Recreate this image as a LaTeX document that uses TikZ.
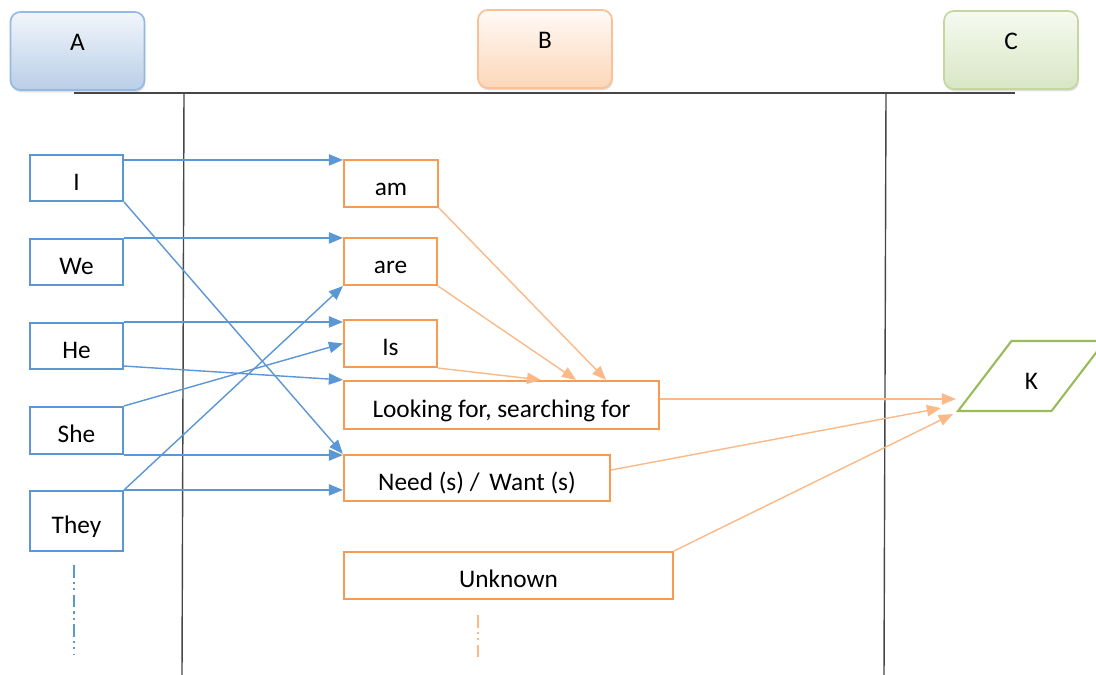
\documentclass[tikz,border=0pt]{standalone}
\usepackage{fontspec}
\setmainfont{Carlito}
\usetikzlibrary{calc,arrows.meta,shapes.geometric,shadows}

\definecolor{laneblue}{RGB}{91,150,213}
\definecolor{laneorange}{RGB}{248,155,80}
\definecolor{linkorange}{RGB}{250,185,135}
\definecolor{lanegreen}{RGB}{155,187,89}
\definecolor{laneline}{RGB}{70,70,70}

\tikzset{
	lanehead/.style={rounded corners=7pt, line width=1.2pt, minimum width=3.35cm,
		minimum height=1.95cm, inner sep=0pt, text height=5pt, text depth=5pt,
		drop shadow={shadow xshift=0.6pt, shadow yshift=-1.6pt, opacity=0.25}},
	wordbox/.style={line width=1.5pt, inner sep=0pt, text height=21pt, text depth=3.5pt},
	blueword/.style={wordbox, draw=laneblue, minimum width=2.325cm},
	orangeword/.style={wordbox, draw=laneorange, minimum height=1.175cm},
	bluelink/.style={draw=laneblue, line width=1pt, -{Triangle[length=10pt,width=8pt]}},
	orangelink/.style={draw=linkorange, line width=1pt, -{Triangle[length=10pt,width=8pt]}},
	lanesep/.style={draw=laneline, line width=1pt},
}

\begin{document}
\begin{tikzpicture}[x=0.025cm, y=-0.025cm, font=\fontsize{18}{22}\selectfont]

	\useasboundingbox (0,0) rectangle (1096,675);

% lane heads %{{{2

	\node[lanehead, draw={rgb,255:red,150;green,185;blue,225},
		top color={rgb,255:red,242;green,246;blue,251},
		bottom color={rgb,255:red,185;green,206;blue,232}] (A) at (77.5,51) {A};
	\node[lanehead, draw={rgb,255:red,250;green,192;blue,150},
		top color={rgb,255:red,255;green,250;blue,246},
		bottom color={rgb,255:red,252;green,214;blue,184}] (B) at (545,49) {B};
	\node[lanehead, draw={rgb,255:red,196;green,215;blue,160},
		top color={rgb,255:red,246;green,250;blue,241},
		bottom color={rgb,255:red,216;green,230;blue,196}] (C) at (1011,50) {C};

% lane lines %{{{2

	\draw[lanesep] (74,93) -- (1015,93);
	\draw[lanesep] (184,93) -- (182,675);
	\draw[lanesep] (886,93) -- (884,675);

% subjects %{{{2

	\foreach \name/\y/\h in {I/178/1.15, We/262/1.15, He/346/1.15, She/430.5/1.175, They/521/1.5}
	{ \node[blueword, minimum height=\h cm] (\name) at (76.5,\y) {\name}; }

	\draw[laneblue, line width=1pt, dash pattern=on 9pt off 3pt on 1.5pt off 3pt on 1.5pt off 3pt]
		(74,565) -- (74,655);

% verbs %{{{2

	\node[orangeword, minimum width=2.35cm] (am) at (391,183.5) {am};
	\node[orangeword, minimum width=2.325cm] (are) at (390.5,261.5) {are};
	\node[orangeword, minimum width=2.325cm] (Is) at (390.5,343.5) {Is};
	\node[orangeword, minimum width=7.875cm, minimum height=1.2cm] (Looking) at (501.5,405)
		{Looking for, searching for};
	\node[orangeword, minimum width=6.65cm, minimum height=1.15cm] (Need) at (477,478)
		{Need (s) /\, Want (s)};
	\node[orangeword, minimum width=8.225cm] (Unknown) at (508.5,575.5) {Unknown};

	\draw[linkorange, line width=1pt, dash pattern=on 9pt off 3pt on 1.5pt off 3pt on 1.5pt off 3pt]
		(478,615) -- (478,660);

% object %{{{2

	\node[trapezium, trapezium left angle=62, trapezium right angle=118,
		trapezium stretches=true, draw=lanegreen, line width=1.5pt, inner sep=0pt,
		minimum width=3.675cm, minimum height=1.75cm,
		text height=21pt, text depth=2.5pt] (K) at (1031.5,376) {K};

% subject links %{{{2

	\coordinate (Iout) at ([yshift=-1.5mm]I.north east);
	\coordinate (Heout) at ([yshift=1mm]He.south east);

	\draw[bluelink] (Iout) -- (Iout -| am.west);
	\draw[bluelink] (I.south east) -- (Need.north west);
	\draw[bluelink] (We.north east) -- (We.north east -| are.west);
	\draw[bluelink] (He.north east) -- (He.north east -| Is.west);
	\draw[bluelink] (Heout) -- (Looking.north west);
	\draw[bluelink] (She.north east) -- (Is.west);
	\draw[bluelink] (She.south east) -- (She.south east -| Need.west);
	\draw[bluelink] (They.north east) -- (are.south west);
	\draw[bluelink] (They.north east) -- (They.north east -| Need.west);

% verb links %{{{2

	\coordinate (Lout) at ([yshift=1.5mm]Looking.east);
	\coordinate (Nout) at ([yshift=2mm]Need.east);

	\draw[orangelink] (am.south east) -- ([xshift=-1.35cm]Looking.north east);
	\draw[orangelink] (are.south east) -- ([xshift=-2.1cm]Looking.north east);
	\draw[orangelink] (Is.south east) -- ([xshift=-2.975cm]Looking.north east);
	\draw[orangelink] (Lout) -- (Lout -| K.bottom left corner);
	\draw[orangelink] (Nout) -- ([xshift=-3.75mm, yshift=1mm]K.bottom left corner);
	\draw[orangelink] (Unknown.north east) -- ([xshift=-0.75mm, yshift=-0.5mm]K.bottom left corner);

% closing %{{{2

\end{tikzpicture}
\end{document}
